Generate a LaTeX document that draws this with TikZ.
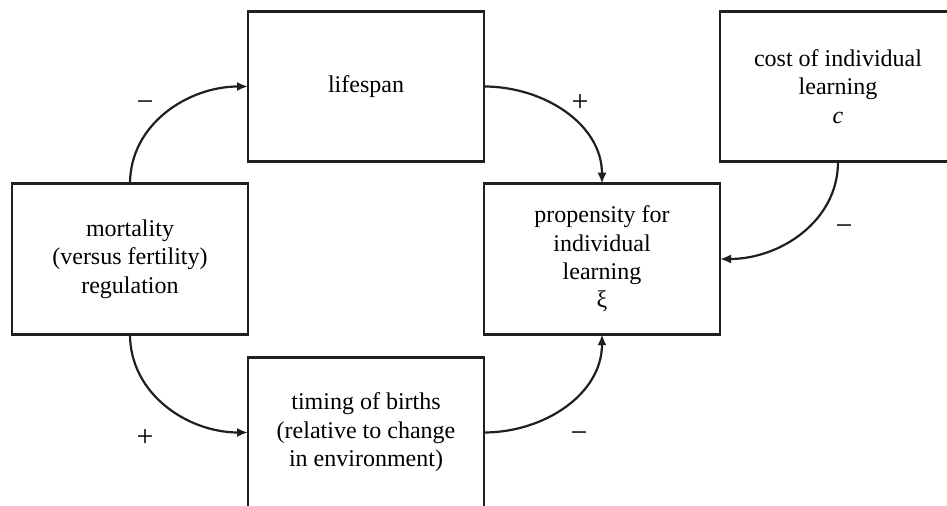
\documentclass[tikz,border=0pt]{standalone}
\usepackage{fontspec}
\setmainfont{Liberation Serif}
\usepackage{tikz}
\usetikzlibrary{arrows.meta, positioning}
\tikzset{
    factor/.style={rectangle, draw=black!88, line width=1.3pt, minimum width=118pt, minimum height=75.25pt, inner sep=0pt, outer sep=0pt, align=center, font=\fontsize{12}{14.2}\selectfont},
    link/.style={line width=1.1pt, draw=black!88, -{Latex[length=5.5pt,width=4.5pt]}},
    sign/.style={inner sep=0pt, font=\fontsize{15}{17}\selectfont}
}

\begin{document}
\begin{tikzpicture}[x=0.5pt, y=-0.5pt]
    \useasboundingbox (0,0) rectangle (947,506);

    \node (mortality) [factor] at (130,259) {mortality\\(versus fertility)\\regulation};
    \node (lifespan) [factor, above right=11pt and 0pt of mortality] {lifespan};
    \node (timing) [factor, below right=11.5pt and 0pt of mortality] {timing of births\\(relative to change\\in environment)};
    \node (propensity) [factor, below right=11pt and 0pt of lifespan] {propensity for\\individual\\learning\\ξ};
    \node (cost) [factor, above right=11pt and 0pt of propensity] {cost of individual\\learning\\\textit{c}};

    \draw [link] (mortality.north) to[out=90, in=180] (lifespan.west);
    \draw [link] (lifespan.east) to[out=0, in=90] (propensity.north);
    \draw [link] (cost.south) to[out=-90, in=0] (propensity.east);
    \draw [link] (mortality.south) to[out=-90, in=180] (timing.west);
    \draw [link] (timing.east) to[out=0, in=-90] (propensity.south);

    % signs of the effects
    \node (signlife) [sign] at (145,106) {−};
    \node (signprop) [sign] at (580,103) {+};
    \node (signcost) [sign] at (844,230) {−};
    \node (signtime) [sign] at (145,438) {+};
    \node (signbirth) [sign] at (579,437) {−};
\end{tikzpicture}
\end{document}
